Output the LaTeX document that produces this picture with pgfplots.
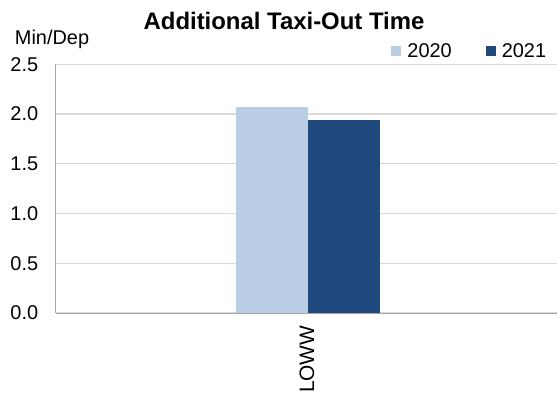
\documentclass[border=0pt]{standalone}
\usepackage{pgfplots}
\pgfplotsset{compat=1.18}
\usepackage{fontspec}
\setmainfont{Liberation Sans}

\definecolor{c2020}{HTML}{B9CDE5}
\definecolor{c2021}{HTML}{1F497D}
\definecolor{gridgray}{HTML}{D9D9D9}
\definecolor{axisgray}{HTML}{A6A6A6}

\newcommand{\lbl}{\fontsize{20}{24}\selectfont}

\pgfplotsset{
  squarelegend/.style={
    legend image code/.code={\fill[##1] (0bp,-5bp) rectangle (10bp,5bp);}
  }
}

\begin{document}
\begin{tikzpicture}[x=1bp,y=1bp]
\useasboundingbox (0,0) rectangle (557,394);
\begin{axis}[
  at={(55.7bp,81bp)}, anchor=south west,
  scale only axis, width=501.3bp, height=248.7bp,
  ybar=0pt, bar width=72bp,
  xmin=-1.006, xmax=0.994,
  ymin=0, ymax=2.5,
  ytick={0,0.5,1,1.5,2,2.5},
  xtick={0}, xticklabels={LOWW},
  major tick length=0pt,
  /pgf/number format/assume math mode=true,
  yticklabel style={/pgf/number format/.cd, fixed, fixed zerofill, precision=1, /tikz/.cd,
    font=\lbl, xshift=-14bp},
  xticklabel style={yshift=-9bp, xshift=-1bp, rotate=90, anchor=east, font=\fontsize{21}{25}\selectfont},
  axis lines=left,
  axis line style={-, axisgray, line width=1bp},
  ymajorgrids, grid style={gridgray, line width=1.2bp},
  legend style={at={(0.826,1.054)}, anchor=center, draw=none, fill=none,
    font=\lbl, legend columns=2,
    /tikz/every odd column/.append style={column sep=4bp},
    /tikz/every even column/.append style={column sep=32bp}},
  legend cell align=left,
]
\addplot[fill=c2020, draw=none, squarelegend] coordinates {(0,2.07)};
\addplot[fill=c2021, draw=none, squarelegend] coordinates {(0,1.94)};
\legend{2020,2021}
\end{axis}
\node[font=\fontsize{24}{28}\selectfont\bfseries] at (284,373) {Additional Taxi-Out Time};
\node[font=\lbl] at (52,355) {Min/Dep};
\end{tikzpicture}
\end{document}
